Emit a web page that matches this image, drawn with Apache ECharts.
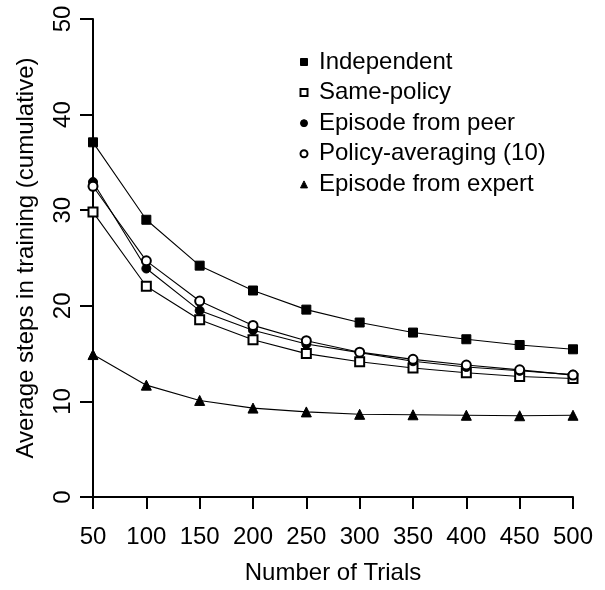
<!DOCTYPE html>
<html>
<head>
<meta charset="utf-8">
<script src="https://cdn.jsdelivr.net/npm/echarts@6/dist/echarts.min.js"></script>
<style>html,body{margin:0;padding:0;background:#fff;}#c{width:605px;height:590px;}</style>
</head>
<body>
<div id="c"></div>
<script>
var trials = [50, 100, 150, 200, 250, 300, 350, 400, 450, 500];
var independent = [37.1, 29.0, 24.2, 21.6, 19.6, 18.25, 17.2, 16.5, 15.9, 15.45];
var samePolicy = [29.8, 22.05, 18.55, 16.45, 15.0, 14.15, 13.5, 13.0, 12.6, 12.4];
var episodePeer = [32.95, 23.9, 19.5, 17.45, 16.0, 15.1, 14.2, 13.6, 13.2, 12.8];
var policyAvg = [32.5, 24.7, 20.5, 17.95, 16.35, 15.15, 14.4, 13.8, 13.3, 12.75];
var episodeExpert = [14.9, 11.7, 10.1, 9.3, 8.9, 8.65, 8.6, 8.55, 8.5, 8.55];
var seriesNames = ['Independent', 'Same-policy', 'Episode from peer', 'Policy-averaging (10)', 'Episode from expert'];
var seriesSymbols = ['rect', 'emptyRect', 'circle', 'emptyCircle', 'triangle'];
var seriesValues = [independent, samePolicy, episodePeer, policyAvg, episodeExpert];

var FONT = 'Liberation Sans';
var FS = 24;

function pairs(vals) {
  return trials.map(function (t, i) { return [t, vals[i]]; });
}

var series = seriesNames.map(function (name, k) {
  return {
    name: name,
    type: 'line',
    data: pairs(seriesValues[k]),
    symbol: seriesSymbols[k],
    symbolSize: seriesSymbols[k] === 'triangle' ? 10 : 9,
    showAllSymbol: true,
    lineStyle: { color: '#000', width: 1.1 },
    itemStyle: { color: '#000', borderColor: '#000', borderWidth: 1 },
    emphasis: { disabled: true },
    animation: false
  };
});

var chart = echarts.init(document.getElementById('c'), null, { renderer: 'canvas' });
chart.setOption({
  backgroundColor: '#fff',
  animation: false,
  grid: { left: 93, right: 32, top: 19, bottom: 91, containLabel: false },
  legend: {
    orient: 'vertical',
    left: 294.5,
    top: 45,
    itemWidth: 7,
    itemHeight: 7,
    itemGap: 6.6,
    data: seriesNames.map(function (n, k) { return { name: n, icon: seriesSymbols[k] }; }),
    itemStyle: { borderWidth: 1 },
    textStyle: { fontFamily: FONT, fontSize: FS, color: '#000', padding: [0, 0, 0, 6.5] },
    selectedMode: false
  },
  xAxis: {
    type: 'value',
    min: 50, max: 500, interval: 50,
    name: 'Number of Trials',
    nameLocation: 'middle',
    nameGap: 64,
    nameTextStyle: { fontFamily: FONT, fontSize: FS, color: '#000' },
    axisLine: { show: true, onZero: false, lineStyle: { color: '#000', width: 2 } },
    axisTick: { show: true, length: 12, lineStyle: { color: '#000', width: 2 } },
    axisLabel: { fontFamily: FONT, fontSize: FS, color: '#000', margin: 28 },
    splitLine: { show: false }
  },
  yAxis: {
    type: 'value',
    min: 0, max: 50, interval: 10,
    name: 'Average steps in training (cumulative)',
    nameLocation: 'middle',
    nameGap: 55,
    nameTextStyle: { fontFamily: FONT, fontSize: FS, color: '#000' },
    axisLine: { show: true, lineStyle: { color: '#000', width: 2 } },
    axisTick: { show: true, length: 13, lineStyle: { color: '#000', width: 2 } },
    axisLabel: { fontFamily: FONT, fontSize: FS, color: '#000', rotate: 90, margin: 18 },
    splitLine: { show: false }
  },
  series: series
});
</script>
</body>
</html>
